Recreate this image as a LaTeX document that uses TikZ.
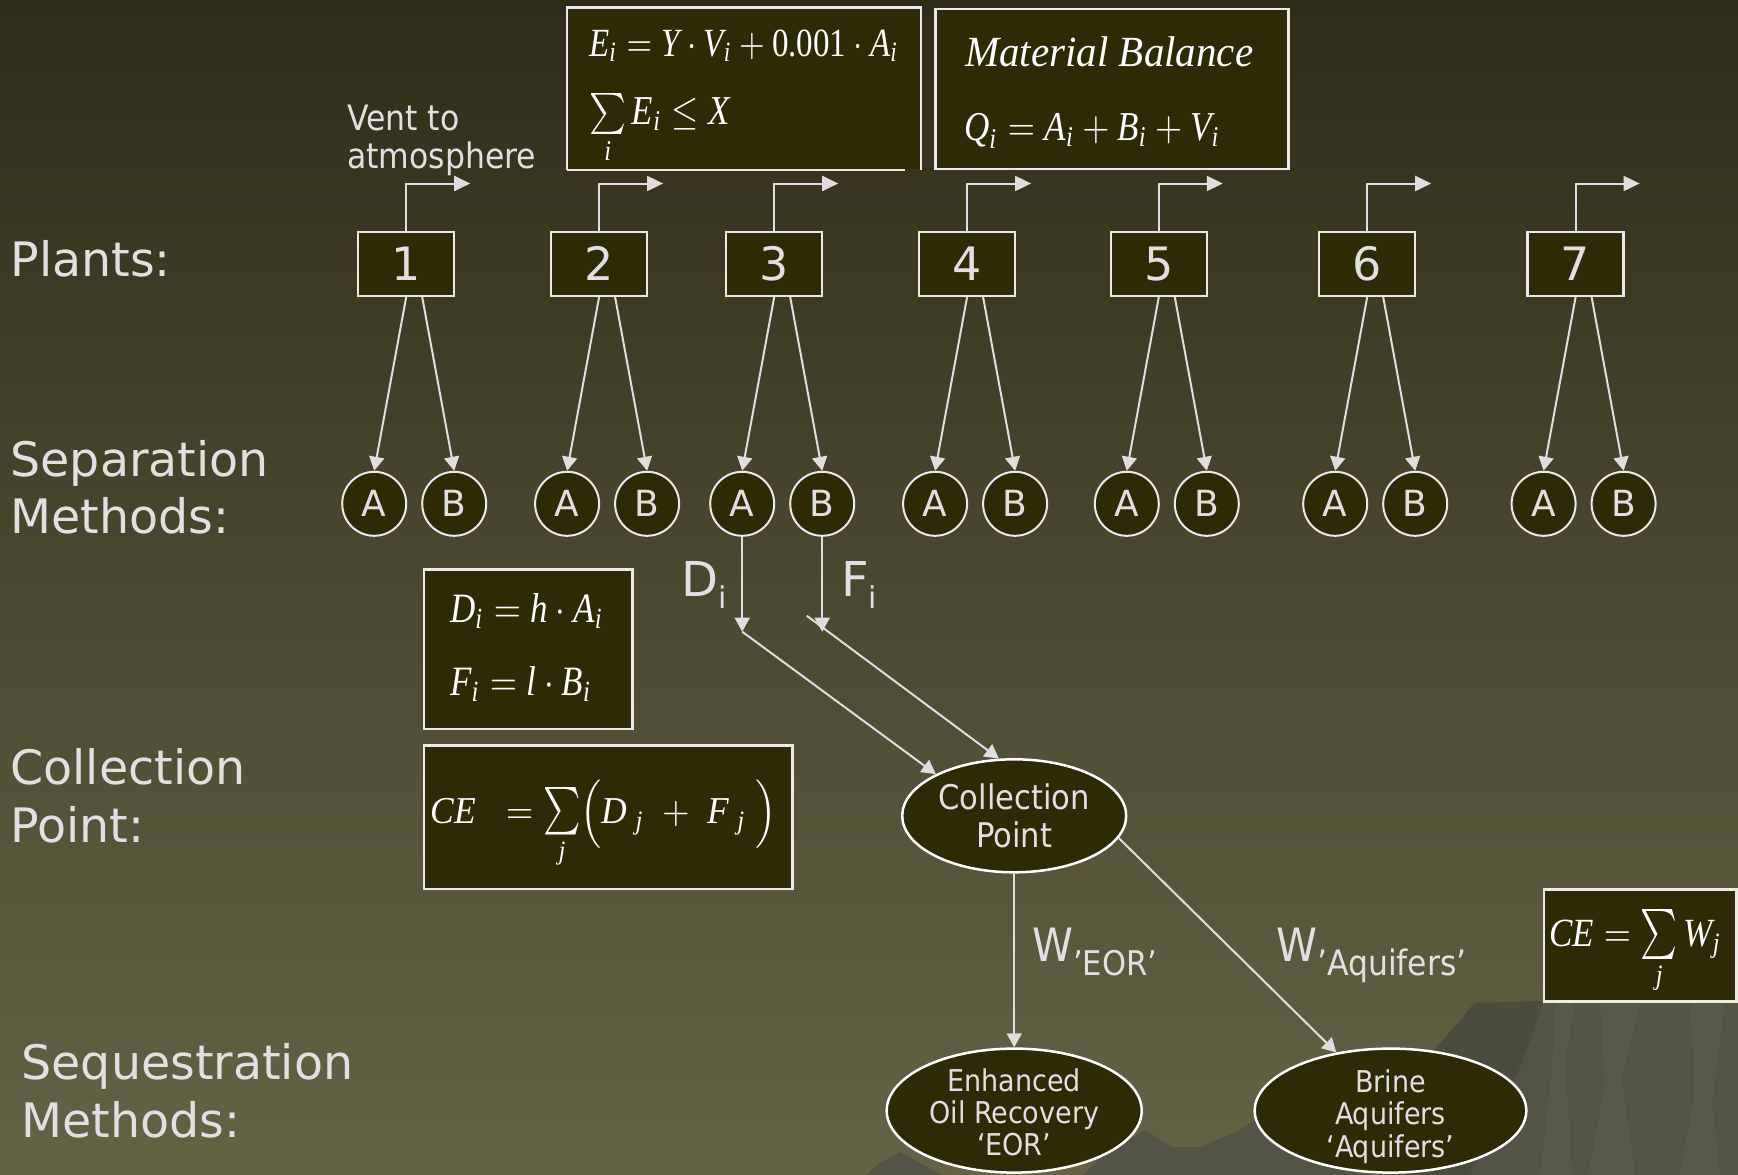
\documentclass[tikz,border=0pt]{standalone}
\usepackage{fontspec}
\usepackage{amsmath}
\usepackage{graphicx}
\setmainfont{DejaVu Sans}
\newfontfamily\condf{DejaVu Sans Condensed}
\newfontfamily\eqf{Liberation Serif}
\usetikzlibrary{arrows.meta,shapes.geometric}

\definecolor{bgtop}{RGB}{47,45,24}
\definecolor{bgmid}{RGB}{76,75,50}
\definecolor{bgbot}{RGB}{101,99,70}
\definecolor{boxfill}{RGB}{46,42,5}
\definecolor{edge}{RGB}{234,234,234}
\definecolor{wire}{RGB}{222,222,222}
\definecolor{ink}{RGB}{224,224,224}
\definecolor{rock}{RGB}{84,84,70}
\definecolor{rocklight}{RGB}{89,89,74}
\definecolor{rockdark}{RGB}{75,75,62}

% italic and upright letters for the formulas
\newcommand\mi[1]{\text{\eqf\itshape #1}}
\newcommand\mr[1]{\text{\eqf #1}}
\newcommand\fs[2]{\fontsize{#1}{#2}\selectfont}
\newcommand\tallsum{\mathop{\scalebox{1}[1.25]{$\textstyle\sum$}}\limits}
% shift multi-line node text down without changing its box
\newcommand\lowered[2]{\raisebox{-#1}[\height][\depth]{\begin{tabular}{@{}c@{}}#2\end{tabular}}}

\begin{document}
\begin{tikzpicture}[x=1pt,y=-1pt,
  plantbox/.style={draw=edge, line width=2.5pt, fill=boxfill, minimum width=96pt,
    minimum height=64pt, inner sep=0pt, text=ink, font=\fs{46}{46}},
  sepnode/.style={circle, draw=edge, line width=2pt, fill=boxfill, minimum size=64pt,
    inner sep=0pt, text=ink, font=\fs{36}{36}},
  flownode/.style={ellipse, draw=white, line width=2.5pt, fill=boxfill, inner sep=-20pt,
    text=ink, align=center, font=\condf\fs{30}{32}},
  eqbox/.style={draw=edge, line width=2.5pt, fill=boxfill, inner sep=0pt, anchor=north west},
  eqtext/.style={anchor=base west, inner sep=0pt, text=white},
  rowlabel/.style={anchor=base west, inner sep=0pt, align=left, text=ink, font=\fs{47.5}{57.7}},
  conn/.style={draw=wire, line width=2pt, -{Triangle[width=15pt,length=14pt]}},
  vent/.style={draw=wire, line width=2pt, -{Triangle[width=15pt,length=16pt]}},
  flowlabel/.style={anchor=base west, inner sep=0pt, text=ink},
]
\useasboundingbox (0,0) rectangle (1738,1175);

% background and rocky hill
\shade[top color=bgtop, middle color=bgmid, bottom color=bgbot] (0,0) rectangle (1738,1175);
\fill[rock] (1083,1175) -- (1101,1157) -- (1128,1140) -- (1146,1130) -- (1160,1140)
  -- (1172,1147) -- (1200,1147) -- (1234,1133) -- (1255,1120) -- (1300,1095)
  -- (1380,1075) -- (1425,1060) -- (1440,1043) -- (1461,1020) -- (1474,1003)
  -- (1490,1001) -- (1500,1006) -- (1512,1004) -- (1530,1001) -- (1738,1001) -- (1738,1175) -- cycle;
\fill[rock] (866,1175) -- (880,1163) -- (900,1152) -- (915,1160) -- (942,1175) -- cycle;
\fill[rockdark] (1474,1003) -- (1543,1001) -- (1530,1040) -- (1520,1067) -- (1500,1110)
  -- (1470,1175) -- (1400,1175) -- (1425,1060) -- (1440,1043) -- (1461,1020) -- cycle;
\fill[rocklight] (1600,1001) -- (1640,1001) -- (1622,1080) -- (1635,1175) -- (1588,1175) -- (1605,1085) -- cycle;
\fill[rocklight] (1690,1001) -- (1725,1001) -- (1712,1100) -- (1720,1175) -- (1680,1175) -- (1695,1090) -- cycle;
\fill[rocklight] (1555,1001) -- (1575,1001) -- (1565,1060) -- (1572,1175) -- (1540,1175) -- (1552,1070) -- cycle;

% row titles
\node[rowlabel] (lplants) at (10.3,276) {Plants:};
\node[rowlabel] (lsep) at (10.3,533.7) {Separation\\Methods:};
\node[rowlabel] (lcoll) at (10.3,842.6) {Collection\\Point:};
\node[rowlabel] (lseq) at (21.3,1137.6) {Sequestration\\Methods:};

\node[anchor=base west, inner sep=0pt, align=left, text=ink, font=\condf\fs{35}{38.5}]
  (ventlab) at (347,168.9) {Vent to\\atmosphere};

% plants, their separation methods and vents
\foreach \xc/\n in {406.2/1, 599.1/2, 774.2/3, 967.1/4, 1158.8/5, 1367.2/6, 1575.6/7} {
  \node[plantbox] (p\n) at (\xc,263.8) {\n};
  \node[sepnode] (a\n) at (\xc-32,503.8) {A};
  \node[sepnode] (b\n) at (\xc+48,503.8) {B};
  \coordinate (v\n) at (\xc+64,183.5);
  \draw[vent] (p\n.north) |- (v\n);
  \draw[conn] (p\n.south) -- (a\n.north);
  \draw[conn] ([xshift=16pt]p\n.south) -- (b\n.north);
}

% formula boxes
\node[eqbox, draw=none, minimum width=351.5pt, minimum height=160pt] (eqE) at (567,7.5) {};
\draw[edge, line width=2.5pt] (eqE.south west) -- (eqE.north west) -- (eqE.north east) -- (eqE.south east);
\draw[edge, line width=2.5pt] (eqE.south west) -- ([xshift=-16pt]eqE.south east);
\node[eqbox, minimum width=352.6pt, minimum height=160pt] (eqM) at (934.4,7.5) {};
\node[eqbox, minimum width=208.5pt, minimum height=159.5pt] (eqD) at (422.5,568) {};
\node[eqbox, minimum width=368.5pt, minimum height=143.5pt] (eqC) at (422.5,744) {};
\node[eqbox, minimum width=192.8pt, minimum height=112pt] (eqW) at (1542.5,888) {};

\node[eqtext] (e1) at (589,56)
  {\scalebox{3.3}[4.0]{$\mi{E}_{\mi{i}} = \mi{Y}\cdot\mi{V}_{\mi{i}} + \mr{0.001}\cdot\mi{A}_{\mi{i}}$}};
\node[eqtext] (e2) at (589,124)
  {\scalebox{3.5}[4.1]{$\sum\limits_{\mi{i}}\mi{E}_{\mi{i}} \le \mi{X}$}};
\node[eqtext] (m1) at (965,66)
  {\scalebox{4.1}[4.3]{\eqf\itshape Material Balance}};
\node[eqtext] (m2) at (964,140)
  {\scalebox{3.5}[4.1]{$\mi{Q}_{\mi{i}} = \mi{A}_{\mi{i}} + \mi{B}_{\mi{i}} + \mi{V}_{\mi{i}}$}};
\node[eqtext] (d1) at (450,622.7)
  {\scalebox{3.5}[4.18]{$\mi{D}_{\mi{i}} = \mi{h}\cdot\mi{A}_{\mi{i}}$}};
\node[eqtext] (d2) at (450,695)
  {\scalebox{3.5}[4.18]{$\mi{F}_{\mi{i}} = \mi{l}\cdot\mi{B}_{\mi{i}}$}};
\node[eqtext] (c1) at (430.7,823.3)
  {\scalebox{3.55}[3.8]{$\mi{CE}\;\; = \tallsum_{\mi{j}} \Bigl(\mi{D}_{\;\mi{j}} \;+\; \mi{F}_{\;\mi{j}}\;\Bigr)$}};
\node[eqtext] (w1) at (1549.3,946.7)
  {\scalebox{3.5}[4.0]{$\mi{CE} = \tallsum_{\mi{j}}\mi{W}_{\mi{j}}$}};

% collection and sequestration
\node[flownode, minimum width=224pt, minimum height=113pt, font=\condf\fs{34}{38.8}]
  (cp) at (1014.2,815.8) {Collection\\Point};
\node[flownode, minimum width=255pt, minimum height=124pt] (eor) at (1014.2,1110.6)
  {\lowered{6.5pt}{Enhanced\\Oil Recovery\\‘EOR’}};
\node[flownode, minimum width=271.6pt, minimum height=124pt] (aq) at (1390.5,1110.6)
  {\lowered{7.5pt}{Brine\\Aquifers\\‘Aquifers’}};

\coordinate (dturn) at (742.2,631.7);
\coordinate (fend) at (822.2,631.7);
\coordinate (fstart) at (806.7,615.7);
\draw[conn] (a3.south) -- (dturn);
\draw[conn] (dturn) -- (cp.152.6);
\draw[conn] (b3.south) -- (fend);
\draw[conn] (fstart) -- (cp.105);
\draw[conn] (cp.south) -- (eor.north);
\draw[conn] (cp.-12) -- (aq.133);

\node[flowlabel, font=\fs{48}{48}] (dlab) at (681,596.7) {D\raisebox{-12pt}{\fs{30}{30}i}};
\node[flowlabel, font=\fs{48}{48}] (flab) at (841,596.7) {F\raisebox{-12pt}{\fs{30}{30}i}};
\node[flowlabel, font=\condf\fs{46}{46}] (weor) at (1032,961)
  {W\raisebox{-14pt}{\fs{34}{34}’EOR’}};
\node[flowlabel, font=\condf\fs{46}{46}] (waq) at (1276,961)
  {W\raisebox{-14pt}{\fs{35}{35}’Aquifers’}};
\end{tikzpicture}
\end{document}
